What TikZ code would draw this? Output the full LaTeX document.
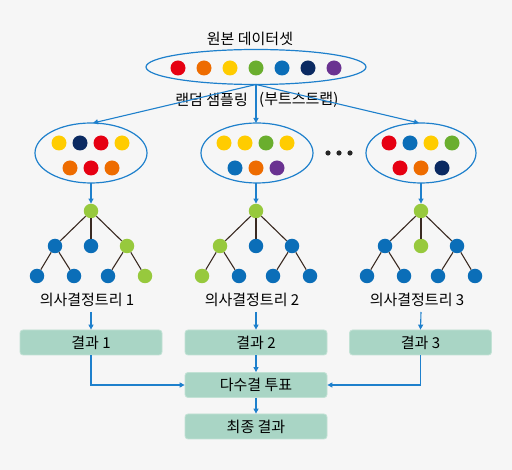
\documentclass[tikz,border=0pt]{standalone}
\usepackage{fontspec}
\setmainfont{Noto Sans CJK KR}
\usetikzlibrary{arrows.meta}
\definecolor{bg}{HTML}{F6F6F6}
\definecolor{cred}{HTML}{E60012}
\definecolor{corange}{HTML}{EE6C00}
\definecolor{cyellow}{HTML}{FFCC00}
\definecolor{cgreen}{HTML}{6AAE2E}
\definecolor{cblue}{HTML}{0B6EB8}
\definecolor{cnavy}{HTML}{0B2A62}
\definecolor{cpurple}{HTML}{6A3291}
\definecolor{clime}{HTML}{97C93D}
\definecolor{edgec}{HTML}{3A2A22}
\definecolor{arrc}{HTML}{1E80CC}
\definecolor{boxfill}{HTML}{A9D5C5}
\definecolor{boxline}{HTML}{C2E2D5}
\tikzset{
  dot/.style={circle,fill=#1,inner sep=0pt,minimum size=15pt},
  tdot/.style={circle,fill=#1,inner sep=0pt,minimum size=14.5pt},
  conn/.style={draw=arrc,line width=1.1pt,-{Triangle[length=5pt,width=5pt]}},
  tedge/.style={draw=edgec,line width=1.1pt},
  resbox/.style={draw=boxline,fill=boxfill,line width=0.8pt,rounded corners=3pt,minimum width=142pt,minimum height=25pt,inner sep=0pt,font=\fontsize{15}{17}\selectfont},
  lbl/.style={font=\fontsize{15}{17}\selectfont,inner sep=0pt},
}
\begin{document}
\begin{tikzpicture}[x=1pt,y=-1pt]
\fill[bg] (0,0) rectangle (512,470);
\useasboundingbox (0,0) rectangle (512,470);

% top
\node[lbl] (title) at (250,39) {원본 데이터셋};
\draw[draw=arrc,line width=1.2pt] (256,67) ellipse [x radius=110, y radius=17.5];
\coordinate (topb) at (256,84.5);
\foreach \c [count=\i] in {cred,corange,cyellow,cgreen,cblue,cnavy,cpurple}
  \node[dot=\c] at ({178+26*(\i-1)},68) {};

\node[lbl,anchor=east] (samp) at (248,100) {랜덤 샘플링};
\node[lbl,anchor=west] (boot) at (259,100) {(부트스트랩)};

% sample ellipses
\draw[draw=arrc,line width=1.2pt] (91,153) ellipse [x radius=56, y radius=30];
\draw[draw=arrc,line width=1.2pt] (257,153) ellipse [x radius=56, y radius=30];
\draw[draw=arrc,line width=1.2pt] (421,153) ellipse [x radius=55, y radius=30];
\coordinate (e1t) at (93,123); \coordinate (e2t) at (256,123); \coordinate (e3t) at (419,123);
\coordinate (e1b) at (91,183); \coordinate (e2b) at (256,183); \coordinate (e3b) at (421,183);

\draw[conn] (topb) -- (e1t);
\draw[conn] (topb) -- (e2t);
\draw[conn] (topb) -- (e3t);

% dots sample 1
\node[dot=cyellow] at (59,143) {};
\node[dot=cnavy] at (80,143) {};
\node[dot=cred] at (101,143) {};
\node[dot=cyellow] at (122,143) {};
\node[dot=corange] at (70,168) {};
\node[dot=cred] at (91,168) {};
\node[dot=corange] at (112,168) {};
% dots sample 2
\node[dot=cyellow] at (224,143) {};
\node[dot=cyellow] at (245,143) {};
\node[dot=cgreen] at (266,143) {};
\node[dot=cyellow] at (287,143) {};
\node[dot=cblue] at (235,168) {};
\node[dot=corange] at (256,168) {};
\node[dot=cpurple] at (277,168) {};
% dots sample 3
\node[dot=cred] at (389,143) {};
\node[dot=cblue] at (410,143) {};
\node[dot=cyellow] at (431,143) {};
\node[dot=cgreen] at (452,143) {};
\node[dot=cred] at (400,168) {};
\node[dot=corange] at (421,168) {};
\node[dot=cnavy] at (442,168) {};

% ellipsis dots
\foreach \x in {328,339,350} \fill[black!85] (\x,153) circle (2.6);

% tree 1
\node[tdot=clime] (r1) at (91,211) {};
\node[tdot=cblue] (a1) at (55,246) {};
\node[tdot=cblue] (b1) at (91,246) {};
\node[tdot=clime] (c1) at (127,246) {};
\node[tdot=cblue] (d1) at (37,276) {};
\node[tdot=cblue] (f1) at (74,276) {};
\node[tdot=cblue] (g1) at (108,276) {};
\node[tdot=clime] (h1) at (145,276) {};
% tree 2
\node[tdot=clime] (r2) at (256,211) {};
\node[tdot=clime] (a2) at (220,246) {};
\node[tdot=cblue] (b2) at (256,246) {};
\node[tdot=cblue] (c2) at (292,246) {};
\node[tdot=clime] (d2) at (202,276) {};
\node[tdot=cblue] (f2) at (239,276) {};
\node[tdot=cblue] (g2) at (273,276) {};
\node[tdot=cblue] (h2) at (310,276) {};
% tree 3
\node[tdot=clime] (r3) at (421,211) {};
\node[tdot=cblue] (a3) at (385,246) {};
\node[tdot=clime] (b3) at (421,246) {};
\node[tdot=cblue] (c3) at (457,246) {};
\node[tdot=cblue] (d3) at (367,276) {};
\node[tdot=cblue] (f3) at (404,276) {};
\node[tdot=cblue] (g3) at (438,276) {};
\node[tdot=cblue] (h3) at (475,276) {};

\foreach \t in {1,2,3}{
  \draw[tedge] (r\t) -- (a\t);
  \draw[tedge] (r\t) -- (b\t);
  \draw[tedge] (r\t) -- (c\t);
  \draw[tedge] (a\t) -- (d\t);
  \draw[tedge] (a\t) -- (f\t);
  \draw[tedge] (c\t) -- (g\t);
  \draw[tedge] (c\t) -- (h\t);
}

\draw[conn] (e1b) -- (r1.north);
\draw[conn] (e2b) -- (r2.north);
\draw[conn] (e3b) -- (r3.north);

% labels
\node[lbl] (t1) at (87,300) {의사결정트리 1};
\node[lbl] (t2) at (252,300) {의사결정트리 2};
\node[lbl] (t3) at (417,300) {의사결정트리 3};

% result boxes
\node[resbox] (res1) at (91,342.5) {결과 1};
\node[resbox] (res2) at (256,342.5) {결과 2};
\node[resbox] (res3) at (420.5,342.5) {결과 3};
\node[resbox] (vote) at (256,385) {다수결 투표};
\node[resbox] (final) at (256,426.5) {최종 결과};

\draw[conn] (91,312) -- (res1.north);
\draw[conn] (256,312) -- (res2.north);
\draw[conn] (421,312) -- (res3.north);
\draw[conn] (res1.south) |- (vote.west);
\draw[conn] (res3.south) |- (vote.east);
\draw[conn] (res2.south) -- (vote.north);
\draw[conn] (vote.south) -- (final.north);
\end{tikzpicture}
\end{document}
